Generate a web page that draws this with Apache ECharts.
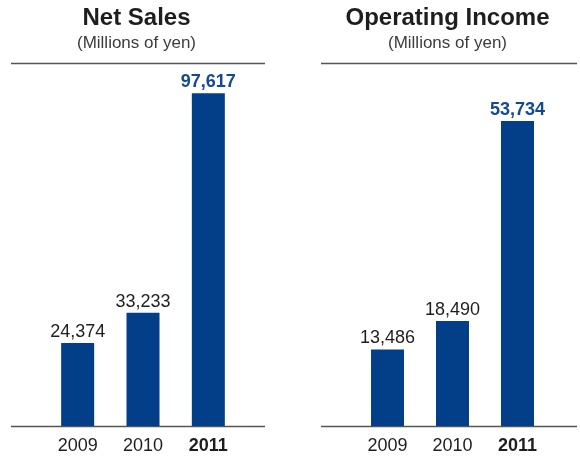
<!DOCTYPE html>
<html>
<head>
<meta charset="utf-8">
<script src="https://cdn.jsdelivr.net/npm/echarts@6/dist/echarts.min.js"></script>
<style>
  html, body { margin: 0; padding: 0; background: #fff; }
  #chart { width: 580px; height: 457px; }
</style>
</head>
<body>
<div id="chart"></div>
<script>
// Fiscal years and results (millions of yen)
const years = ['2009', '2010', '2011'];
const netSales = [24374, 33233, 97617];
const operatingIncome = [13486, 18490, 53734];
const panelTitles = ['Net Sales', 'Operating Income'];
const unitLabel = '(Millions of yen)';

const BAR = '#033f88';
const HIGHLIGHT = '#134a91';
const TEXT = '#1e1e1e';
const RULE = '#555555';
const FONT = '"Liberation Sans", Arial, Helvetica, sans-serif';

const fmt = v => v.toLocaleString('en-US');
const lastIdx = years.length - 1;

function barData(values) {
  return values.map((v, i) => i === lastIdx
    ? { value: v, label: { color: HIGHLIGHT, fontWeight: 'bold' } }
    : v);
}

function xAxisFor(gridIndex) {
  return {
    type: 'category',
    gridIndex,
    data: years,
    axisLine: { show: false },
    axisTick: { show: false },
    axisLabel: {
      interval: 0,
      margin: 11,
      fontFamily: FONT,
      fontSize: 18,
      color: TEXT,
      formatter: (v, i) => i === lastIdx ? '{b|' + v + '}' : v,
      rich: { b: { fontWeight: 'bold', fontFamily: FONT, fontSize: 18, color: TEXT } }
    }
  };
}

function yAxisFor(gridIndex, max) {
  return { type: 'value', gridIndex, min: 0, max, show: false, splitLine: { show: false } };
}

function seriesFor(idx, values) {
  return {
    type: 'bar',
    xAxisIndex: idx,
    yAxisIndex: idx,
    barWidth: 33,
    itemStyle: { color: BAR },
    data: barData(values),
    label: {
      show: true,
      position: 'top',
      distance: 2,
      fontFamily: FONT,
      fontSize: 18,
      color: TEXT,
      formatter: p => fmt(p.value)
    }
  };
}

function titleFor(text, cx) {
  return {
    text,
    subtext: unitLabel,
    left: cx,
    top: 1,
    textAlign: 'center',
    itemGap: 5,
    textStyle: { fontFamily: FONT, fontSize: 24, fontWeight: 'bold', color: TEXT },
    subtextStyle: { fontFamily: FONT, fontSize: 17, color: '#3c3c3c' }
  };
}

function hline(x1, x2, y) {
  return { type: 'line', shape: { x1, y1: y, x2, y2: y }, style: { stroke: RULE, lineWidth: 1.5 } };
}

const chart = echarts.init(document.getElementById('chart'), null, { renderer: 'canvas' });
chart.setOption({
  animation: false,
  backgroundColor: '#ffffff',
  title: [titleFor(panelTitles[0], 131.5), titleFor(panelTitles[1], 442.5)],
  grid: [
    { left: 45, width: 196, top: 85, bottom: 31 },
    { left: 355, width: 195, top: 85.5, bottom: 31 }
  ],
  xAxis: [xAxisFor(0), xAxisFor(1)],
  yAxis: [yAxisFor(0, 100000), yAxisFor(1, 60000)],
  series: [seriesFor(0, netSales), seriesFor(1, operatingIncome)],
  graphic: [
    hline(11, 265, 63.5),
    hline(321, 577, 63.5),
    hline(11, 265, 426.5),
    hline(321, 577, 426.5)
  ]
});
</script>
</body>
</html>
